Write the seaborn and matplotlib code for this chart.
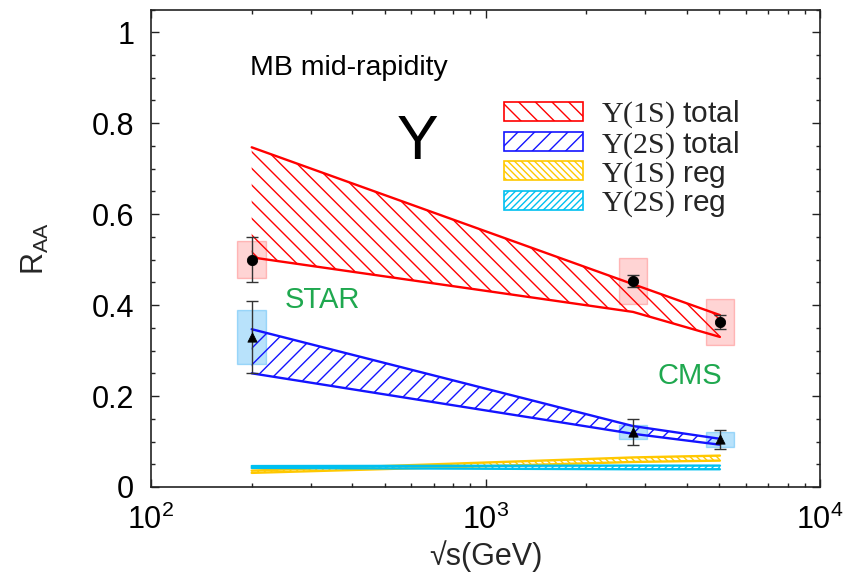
import numpy as np
import pandas as pd
import matplotlib
matplotlib.use("Agg")
import matplotlib.pyplot as plt
import matplotlib.patches as mpatches
import matplotlib.ticker as mticker
import seaborn as sns

# ---------------- data ----------------
energies = [200, 2760, 5020]

# Upsilon(1S) data (STAR, CMS, CMS)
y1s = [0.50, 0.453, 0.363]
y1s_stat = [0.05, 0.014, 0.015]
y1s_sys = [0.04, 0.05, 0.05]

# Upsilon(2S) data
y2s = [0.33, 0.121, 0.105]
y2s_stat = [0.08, 0.028, 0.021]
y2s_sys = [0.06, 0.015, 0.016]

# model bands
tot1s_hi = [0.747, 0.446, 0.378]
tot1s_lo = [0.505, 0.385, 0.330]
tot2s_hi = [0.347, 0.134, 0.106]
tot2s_lo = [0.250, 0.117, 0.093]
reg1s_hi = [0.036, 0.065, 0.069]
reg1s_lo = [0.031, 0.055, 0.058]
reg2s_hi = [0.046, 0.047, 0.047]
reg2s_lo = [0.042, 0.039, 0.039]

legend_labels = [r"$\Upsilon(1\mathrm{S})$ total", r"$\Upsilon(2\mathrm{S})$ total",
                 r"$\Upsilon(1\mathrm{S})$ reg", r"$\Upsilon(2\mathrm{S})$ reg"]
yticks = [0, 0.2, 0.4, 0.6, 0.8, 1.0]
xticks = [1e2, 1e3, 1e4]

# ---------------- style ----------------
sns.set_theme(style="ticks")
plt.rcParams["font.family"] = ["Liberation Sans", "DejaVu Sans"]
plt.rcParams["mathtext.fontset"] = "custom"
plt.rcParams["mathtext.rm"] = "Liberation Serif"
plt.rcParams["mathtext.it"] = "Liberation Serif:italic"
plt.rcParams["mathtext.bf"] = "Liberation Serif:bold"
plt.rcParams["mathtext.sf"] = "Liberation Sans"
plt.rcParams["hatch.linewidth"] = 1.0
plt.rcParams["xtick.direction"] = "in"
plt.rcParams["ytick.direction"] = "in"

RED = "#ff0000"
BLUE = "#1414ff"
YEL = "#ffc800"
CYAN = "#00c0f0"
GREEN = "#1fa84f"

fig = plt.figure(figsize=(8.56, 5.77), dpi=100)
ax = fig.add_axes([0.1764, 0.156, 0.7816, 0.8275])
ax.set_xscale("log")
ax.set_xlim(1e2, 1e4)
ax.set_ylim(0, 1.05)

# systematic boxes
half = 10 ** 0.043
for e, v, s in zip(energies, y1s, y1s_sys):
    ax.fill_between([e / half, e * half], v - s, v + s,
                    facecolor=(1, 0, 0, 0.17), edgecolor=(1, 0, 0, 0.22), lw=1, zorder=1)
for e, v, s in zip(energies, y2s, y2s_sys):
    ax.fill_between([e / half, e * half], v - s, v + s,
                    facecolor=(0.0, 0.6, 0.95, 0.28), edgecolor=(0.0, 0.6, 0.95, 0.3), lw=1, zorder=1)

# bands
bands = [
    (tot1s_lo, tot1s_hi, RED, "\\\\"),
    (tot2s_lo, tot2s_hi, BLUE, "//"),
    (reg1s_lo, reg1s_hi, YEL, "\\\\\\\\\\"),
    (reg2s_lo, reg2s_hi, CYAN, "/////"),
]
for lo, hi, c, h in bands:
    ax.fill_between(energies, lo, hi, facecolor="none", edgecolor=c, hatch=h,
                    linewidth=0, zorder=2)
    df = pd.DataFrame({"E": energies, "lo": lo, "hi": hi})
    sns.lineplot(data=df, x="E", y="hi", color=c, lw=1.7, ax=ax, zorder=3)
    sns.lineplot(data=df, x="E", y="lo", color=c, lw=1.7, ax=ax, zorder=3)

# data points
ax.errorbar(energies, y1s, yerr=y1s_stat, fmt="none", ecolor="#333333",
            elinewidth=1.0, capsize=4, capthick=1.0, zorder=4)
ax.errorbar(energies, y2s, yerr=y2s_stat, fmt="none", ecolor="#333333",
            elinewidth=1.0, capsize=4, capthick=1.0, zorder=4)
sns.scatterplot(x=energies, y=y1s, marker="o", s=55, color="black",
                edgecolor="black", ax=ax, zorder=5)
sns.scatterplot(x=energies, y=y2s, marker="^", s=45, color="black",
                edgecolor="black", ax=ax, zorder=5)

# texts
ax.text(198, 0.921, "MB mid-rapidity", fontsize=20.5, ha="left", va="center", color="black")
ax.text(628, 0.758, "Υ", fontsize=45, ha="center", va="center", color="black")
ax.text(251, 0.411, "STAR", fontsize=21, ha="left", va="center", color=GREEN)
ax.text(3260, 0.244, "CMS", fontsize=21, ha="left", va="center", color=GREEN)

# legend
handles = [mpatches.Patch(facecolor="none", edgecolor=c, hatch=h, lw=1.2)
           for _, _, c, h in bands]
leg = ax.legend(handles, legend_labels, loc="upper left", bbox_to_anchor=(0.527, 0.813),
                frameon=False, fontsize=21.5, handlelength=2.65, handleheight=0.6,
                handletextpad=0.6, labelspacing=-0.05, borderpad=0, borderaxespad=0)

# axes / ticks
ax.set_yticks(yticks)
ax.yaxis.set_major_formatter(mticker.FuncFormatter(lambda v, p: "%g" % v))
ax.yaxis.set_minor_locator(mticker.MultipleLocator(0.05))
ax.set_xticks(xticks)
ax.xaxis.set_major_formatter(mticker.FuncFormatter(
    lambda v, p: r"$\mathsf{10^{%d}}$" % int(round(np.log10(v)))))
ax.xaxis.set_minor_locator(mticker.LogLocator(base=10, subs=np.arange(2, 10)))
ax.xaxis.set_minor_formatter(mticker.NullFormatter())
ax.tick_params(which="both", direction="in", top=True, right=True, colors="#222222",
               labelcolor="black", labelsize=22, width=1.0)
ax.tick_params(which="major", length=6)
ax.tick_params(which="minor", length=3)
ax.tick_params(axis="y", which="major", pad=12)
ax.tick_params(axis="x", which="major", pad=13)
for sp in ax.spines.values():
    sp.set_color("#222222")
    sp.set_linewidth(1.2)

ax.set_xlabel("√s(GeV)", fontsize=22, labelpad=3)
ax.set_ylabel(r"$\mathsf{R_{AA}}$", fontsize=22)
ax.yaxis.set_label_coords(-0.15, 0.5)

fig.savefig("out.png", dpi=100)
